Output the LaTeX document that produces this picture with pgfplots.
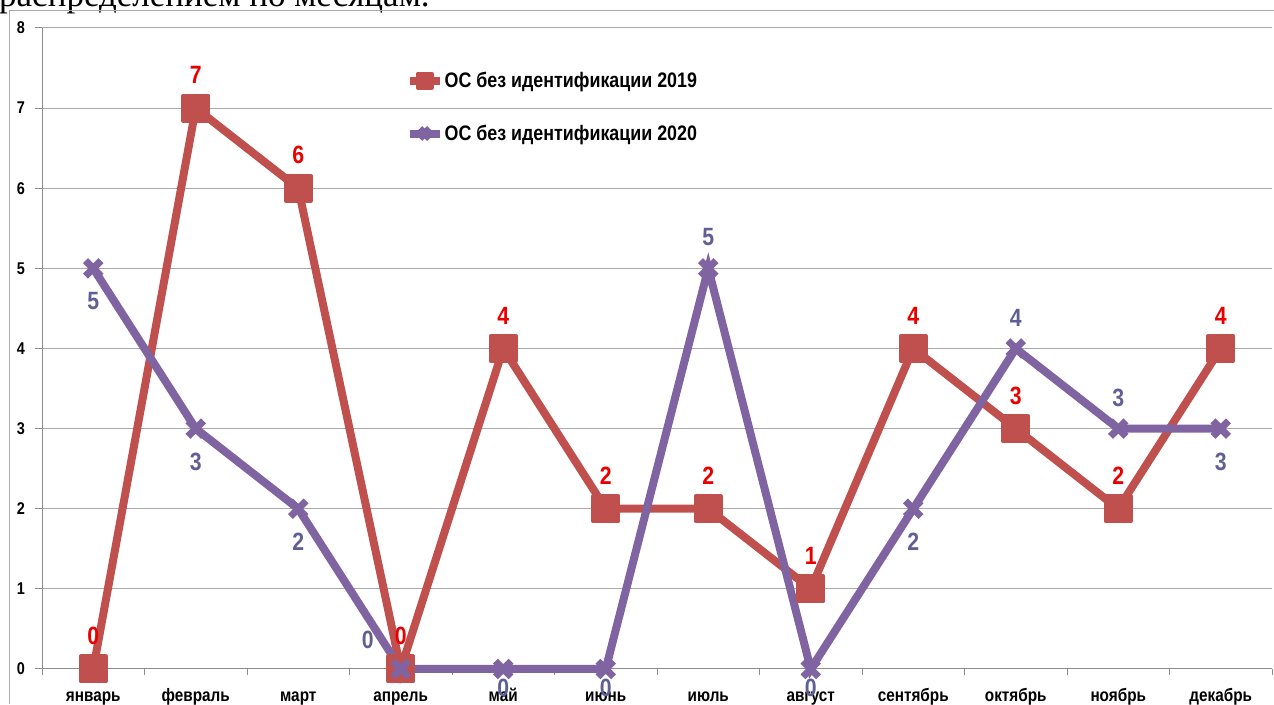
\documentclass[border=0pt]{standalone}
\usepackage{pgfplots}
\pgfplotsset{compat=1.18}
\usepackage{fontspec}
\setmainfont{Liberation Serif}
\newfontfamily\nsans[FakeStretch=0.85]{Liberation Sans}
\definecolor{serred}{RGB}{192,80,77}
\definecolor{serpurple}{RGB}{128,100,162}
\definecolor{lblred}{RGB}{235,0,0}
\definecolor{lblpurple}{RGB}{95,95,150}
\definecolor{gridgray}{RGB}{170,170,170}
\definecolor{axgray}{RGB}{140,140,140}

\begin{document}
\begin{tikzpicture}[x=1pt,y=1pt]
\useasboundingbox (0,0) rectangle (1274,704);
\node[anchor=base west, inner sep=0pt, font=\fontsize{35}{40}\selectfont] at (-1,697) {распределением по месяцам.};
\draw[color=gridgray, line width=1pt] (9.5,0) -- (9.5,693) -- (1274,693);
\begin{axis}[
  at={(42pt,35pt)}, anchor=south west,
  scale only axis, width=1230pt, height=641pt,
  xmin=-0.5, xmax=11.5, ymin=0, ymax=8,
  clip=false,
  /pgf/number format/assume math mode=true,
  axis x line*=bottom, axis y line*=left,
  axis line style={draw=axgray, line width=1pt, -},
  tick style={draw=axgray, line width=1pt},
  tick align=outside,
  major tick length=7pt, minor tick length=6pt,
  xtick={0,...,11},
  minor xtick={-0.5,0.5,...,11.5},
  major x tick style={draw=none},
  xticklabels={январь, февраль, март, апрель, май, июнь, июль, август, сентябрь, октябрь, ноябрь, декабрь},
  xticklabel style={font=\nsans\bfseries\fontsize{18}{18}\selectfont, text=black, inner sep=0pt, anchor=base, yshift=-25pt},
  ytick={0,...,8},
  yticklabel style={font=\nsans\bfseries\fontsize{17}{17}\selectfont, text=black, inner sep=0pt, anchor=east, xshift=-10pt},
  ymajorgrids, grid style={draw=gridgray, line width=1pt},
  legend style={at={(0.2955,0.933)}, anchor=north west, draw=none, fill=none,
    font=\nsans\bfseries\fontsize{21}{21}\selectfont, row sep=34pt, inner sep=0pt,
    nodes={inner sep=1pt}},
  legend cell align=left,
  legend image code/.code={\draw[#1,mark=none] (0pt,0pt) -- (30pt,0pt);
     \draw[#1, mark size=7pt] plot coordinates {(15pt,0pt)};},
  rlab/.style={draw=none, mark=none, forget plot, nodes near coords,
    every node near coord/.append style={anchor=center, inner sep=0pt,
      font=\nsans\bfseries\fontsize{25}{25}\selectfont, text=lblred}},
  plab/.style={draw=none, mark=none, forget plot, nodes near coords,
    every node near coord/.append style={anchor=center, inner sep=0pt,
      font=\nsans\bfseries\fontsize{25}{25}\selectfont, text=lblpurple}},
]
\addplot[color=serred, line width=8pt, mark=square*, mark size=12.5pt,
  mark options={fill=serred, draw=serred, line width=4pt, line join=round}]
  coordinates {(0,0) (1,7) (2,6) (3,0) (4,4) (5,2) (6,2) (7,1) (8,4) (9,3) (10,2) (11,4)};
\addlegendentry{ОС без идентификации 2019}
\addplot[color=serpurple, line width=8pt, mark=x, mark size=11pt,
  mark options={draw=serpurple, line width=7pt}]
  coordinates {(0,5) (1,3) (2,2) (3,0) (4,0) (5,0) (6,5) (7,0) (8,2) (9,4) (10,3) (11,3)};
\addlegendentry{ОС без идентификации 2020}
% data labels, 2019 (above)
\addplot[rlab, every node near coord/.append style={yshift=33pt}]
  coordinates {(0,0) (1,7) (2,6) (3,0) (4,4) (5,2) (6,2) (7,1) (8,4) (9,3) (10,2) (11,4)};
% data labels, 2020
\addplot[plab, every node near coord/.append style={yshift=-33pt}]
  coordinates {(0,5) (1,3) (2,2) (8,2) (11,3)};
\addplot[plab, every node near coord/.append style={yshift=31pt}]
  coordinates {(6,5) (9,4) (10,3)};
\addplot[plab, every node near coord/.append style={yshift=-19pt}]
  coordinates {(4,0) (5,0) (7,0)};
\addplot[plab, every node near coord/.append style={xshift=-33pt, yshift=29pt}]
  coordinates {(3,0)};
\end{axis}
\end{tikzpicture}
\end{document}
